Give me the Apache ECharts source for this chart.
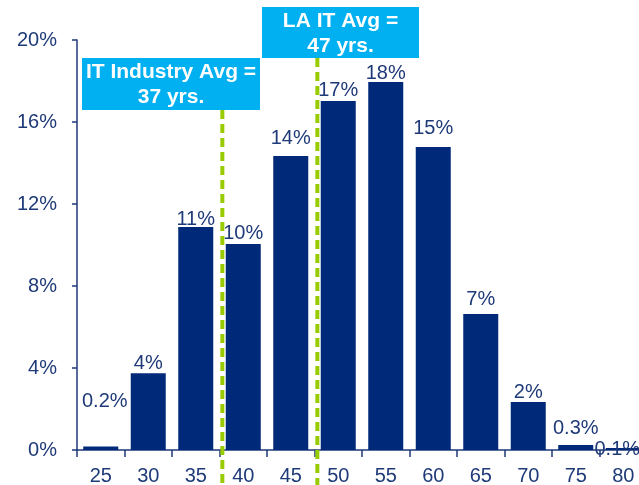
<!DOCTYPE html>
<html><head><meta charset="utf-8">
<script src="https://cdn.jsdelivr.net/npm/echarts@6/dist/echarts.min.js"></script>
<style>html,body{margin:0;padding:0;background:#fff}#c{width:639px;height:485px}</style>
</head><body><div id="c"></div>
<script>
var categories = ['25','30','35','40','45','50','55','60','65','70','75','80'];
var shares = [0.17, 3.75, 10.88, 10.05, 14.34, 17.02, 17.95, 14.78, 6.63, 2.34, 0.25, 0.1];
var labelTexts = ['0.2%','4%','11%','10%','14%','17%','18%','15%','7%','2%','0.3%','0.1%'];
var yTicks = [0, 4, 8, 12, 16, 20];
var avgNotes = [
  {lines: ['IT Industry Avg =', '37 yrs.'], age: 37.8},
  {lines: ['LA IT Avg =', '47 yrs.'], age: 47.8}
];

// layout tweaks for the value labels (pixel nudges)
var labelNudge = [[4,-35],[0,0],[0,3],[0,0],[0,-8],[0,-1],[0,1],[0,-9],[0,-5],[0,0],[0,-6],[-6,12]];

var navy = '#1F3A78';
var barColor = '#00297A';
var font = 'Liberation Sans, Arial, sans-serif';

var chart = echarts.init(document.getElementById('c'));
var data = shares.map(function(v, i){
  return {value: v, label: {formatter: labelTexts[i], offset: labelNudge[i]}};
});
chart.setOption({
  animation: false,
  grid: {left: 77, right: -8, top: 40, bottom: 35, containLabel: false, outerBoundsMode: 'none'},
  xAxis: [{
    type: 'category', data: categories,
    axisLine: {lineStyle: {color: navy, width: 1.5}},
    axisTick: {show: true, length: 7, lineStyle: {color: navy, width: 1.5}},
    axisLabel: {color: navy, fontSize: 20, fontFamily: font, margin: 16, interval: 0}
  }, {
    type: 'value', min: 22.5, max: 82.5, show: false
  }],
  yAxis: {
    type: 'value', min: yTicks[0], max: yTicks[yTicks.length-1], interval: yTicks[1]-yTicks[0],
    axisLine: {show: true, lineStyle: {color: navy, width: 1.5}},
    axisTick: {show: true, length: 5, lineStyle: {color: navy, width: 1.5}},
    splitLine: {show: false},
    axisLabel: {color: navy, fontSize: 20, fontFamily: font, margin: 20, formatter: '{value}%'}
  },
  series: [{
    type: 'bar', data: data, barWidth: 35, xAxisIndex: 0,
    itemStyle: {color: barColor},
    label: {show: true, position: 'top', distance: 0, color: navy, fontSize: 20, fontFamily: font}
  }]
});

var boxes = [
  {x: 82, y: 58, w: 178, h: 52},
  {x: 262, y: 7, w: 157, h: 51}
];
var g = [];
avgNotes.forEach(function(n, i){
  var px = chart.convertToPixel({xAxisIndex: 1}, n.age);
  var b = boxes[i];
  g.push({type: 'line', z: 10, shape: {x1: px, y1: b.y + b.h, x2: px, y2: 485},
    style: {stroke: '#99CC00', lineWidth: 4, lineDash: [9, 5]}});
  g.push({type: 'rect', z: 11, shape: {x: b.x, y: b.y, width: b.w, height: b.h},
    style: {fill: '#00B0F0'}});
  g.push({type: 'text', z: 12, x: b.x + b.w/2, y: b.y + b.h/2 + 1,
    style: {text: n.lines.join('\n'), fill: '#fff', font: 'bold 21px ' + font,
      align: 'center', verticalAlign: 'middle', lineHeight: 25}});
});
chart.setOption({graphic: g});
</script>
</body></html>
